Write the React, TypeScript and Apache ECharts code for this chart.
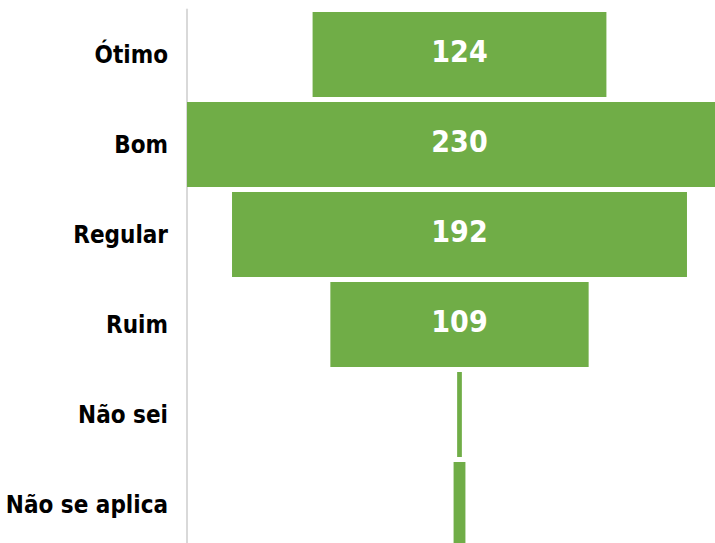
import React, { useEffect, useRef } from "react";
import * as echarts from "echarts";

const categories = ["Ótimo", "Bom", "Regular", "Ruim", "Não sei", "Não se aplica"];
const values = [124, 230, 192, 109, 2, 5];
const axisMax = 230;

const FONT = "'DejaVu Sans Condensed', 'Noto Sans', sans-serif";

export default function App() {
  const ref = useRef<HTMLDivElement>(null);
  useEffect(() => {
    if (!ref.current) return;
    const chart = echarts.init(ref.current, undefined, { renderer: "svg" });
    const spacer = values.map((v) => (axisMax - v) / 2);
    chart.setOption({
      animation: false,
      grid: { left: 187, right: 0, top: 9.5, bottom: 0.5, containLabel: false, outerBoundsMode: "none" },
      xAxis: { type: "value", min: 0, max: axisMax, show: false },
      yAxis: {
        type: "category",
        data: categories,
        inverse: true,
        axisLine: { show: true, lineStyle: { color: "#d9d9d9", width: 2 } },
        axisTick: { show: false },
        splitLine: { show: false },
        axisLabel: {
          margin: 19,
          color: "#000",
          fontSize: 24,
          fontWeight: "bold",
          fontFamily: FONT,
          padding: [0, 0, 3, 0],
        },
      },
      series: [
        {
          type: "bar",
          stack: "s",
          data: spacer,
          barWidth: 85,
          silent: true,
          itemStyle: { color: "transparent" },
        },
        {
          type: "bar",
          stack: "s",
          data: values.map((v) => ({
            value: v,
            label: { show: v > 20 },
          })),
          barWidth: 85,
          itemStyle: { color: "#70AD47" },
          label: {
            show: true,
            position: "inside",
            color: "#fff",
            fontSize: 30,
            fontWeight: "bold",
            fontFamily: FONT,
            offset: [0, -3],
          },
        },
      ],
    });
    return () => chart.dispose();
  }, []);
  return (
    <div style={{ position: "absolute", left: 0, top: 0, width: 715, height: 543, overflow: "hidden", background: "#fff" }}>
      <div ref={ref} style={{ width: 732, height: 550 }} />
    </div>
  );
}
